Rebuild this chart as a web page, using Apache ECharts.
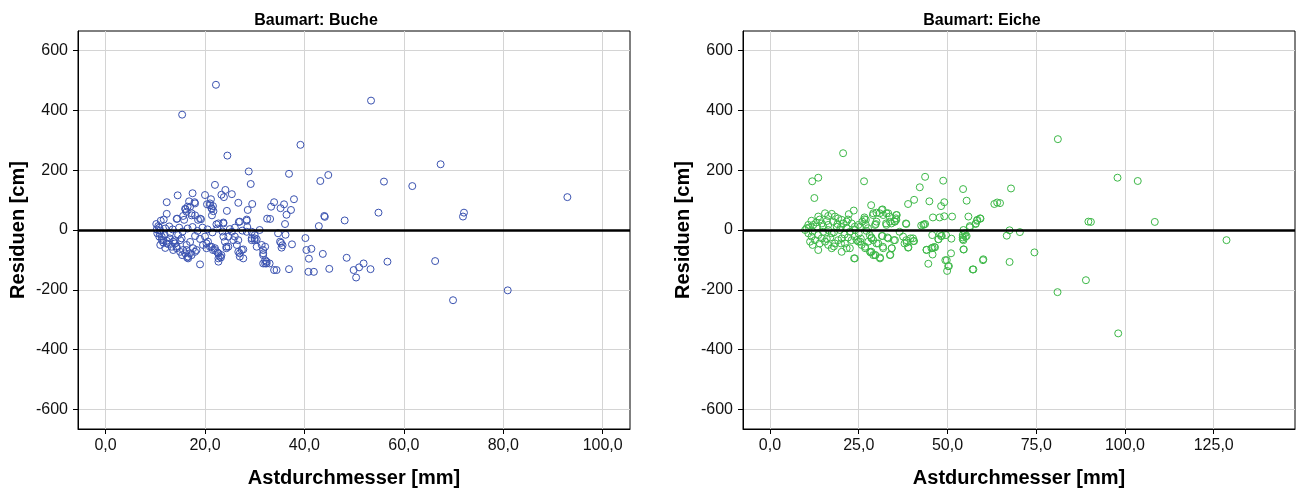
<!DOCTYPE html>
<html><head><meta charset="utf-8">
<script src="https://cdn.jsdelivr.net/npm/echarts@6/dist/echarts.min.js"></script>
<style>html,body{margin:0;padding:0;background:#fff}#c{width:1297px;height:489px}</style>
</head><body><div id="c"></div>
<script>
// ---- Data (x = Astdurchmesser [mm], y = Residuen [cm]) ----
const bucheData = [
[22.2,486],[15.4,386],[53.4,433],[39.2,285],[24.5,249],[28.8,196],[29.2,154],[36.9,188],[44.8,184],[43.2,164],[56.0,162],[61.7,147],[67.4,220],[92.9,110],[72.1,58],[71.9,45],[54.9,58],[48.1,32],[44.0,47],[44.1,44],[42.9,13],
[48.5,-93],[51.9,-112],[51.0,-125],[49.9,-134],[53.3,-131],[50.4,-159],[56.7,-106],[66.3,-104],[80.9,-202],[69.9,-235],[45.0,-130],
[33.9,93],[35.9,86],[37.9,103],[33.3,78],[35.2,73],[37.3,67],[36.4,51],[36.1,20],[33.1,37],
[34.7,-11],[36.2,-16],[35.3,-43],[35.6,-51],[35.4,-59],[37.5,-48],[40.2,-27],[40.4,-67],[41.4,-63],[40.9,-96],[43.7,-80],[34.4,-134],[36.9,-131],[40.8,-140],[41.9,-140],[33.0,-112],[33.9,-134],
[22.0,151],[14.5,116],[17.5,123],[12.3,93],[20.0,117],[24.1,134],[23.3,118],[23.8,110],[25.4,120],[26.7,91],[29.5,87],[28.6,67],[24.4,64],[16.8,96],[17.9,93],[16.0,71],[16.5,78],[12.3,54],[14.4,38],[15.6,47],[17.3,49],[18.0,49],[19.0,38],[20.4,86],[21.0,89],[21.4,71],[21.6,80],[21.4,49],[22.3,19],[23.7,25],[26.8,27],[28.4,35],[32.5,38],[11.1,31],[11.7,35],[10.8,8],
[21.2,103],[21.0,83],[21.3,73],[21.7,63],[18.0,89],[17.0,78],[16.3,61],[17.3,56],[18.6,34],[19.2,36],[22.7,22],[23.7,22],[27.0,28],[28.4,31],[14.3,37],[15.8,34],[16.1,69],[10.6,13],[10.3,2],
[10.9,-11],[11.3,-22],[11.6,-34],[12.3,-45],[12.9,-28],[13.6,-39],[14.3,-56],[15.0,-34],[15.6,-67],[16.3,-50],[17.0,-78],[16.6,-89],[17.6,-61],[18.3,-67],[19.0,-115],[20.3,-45],[21.0,-56],[21.6,-67],[22.0,-61],[22.5,-75],[22.7,-95],[23.0,-89],[23.7,-22],[24.3,-61],[24.7,-56],[25.7,-34],[26.4,-50],[26.7,-73],[27.0,-89],[27.4,-67],[27.7,-65],[28.4,-6],[29.4,-28],[30.0,-34],[30.4,-31],[31.0,0],[31.4,-50],[31.7,-67],[32.1,-56],[31.7,-84],[32.1,-112],[32.4,-106],[35.1,-39],
[10.4,-11],[10.8,-22],[11.3,-34],[11.6,-42],[12.3,-36],[12.6,-47],[13.3,-56],[13.6,-67],[14.3,-61],[15.0,-73],[15.4,-84],[16.0,-78],[16.4,-92],[15.3,-28],[14.6,-17],[13.9,-34],[11.9,-17],
[29.4,-6],[30.0,-17],[25.4,-6],[26.0,-22],[26.7,-34],[24.7,-22],[24.0,-39],[24.3,-56],[20.0,-22],[20.6,-39],[20.3,-61],[19.6,-50],[21.3,-56],[22.0,-67],[22.7,-78],[23.3,-84],[27.0,-78],[27.7,-95],[23.2,-92],[22.7,-106],[16.6,-95],[17.3,-84],[18.0,-73],[16.3,-67],[31.7,-78],[32.1,-101],[31.7,-112],[32.4,-112],[30.0,-28],[29.4,-34],[30.4,-56],
[10.2,20],[11.0,-2],[12.0,5],[12.8,12],[13.5,2],[14.8,8],[15.5,-5],[16.5,5],[17.5,10],[18.5,-3],[19.5,8],[20.5,2],[21.5,-8],[22.5,5],[23.5,-5],[25.0,3],[26.0,8],[27.5,-2],[28.5,10],[18.0,-20],[19.0,-30],[17.0,-40],[13.0,-10],[14.0,-45],[12.0,-60],[11.0,-50]
];
const eicheData = [
[81.1,304],[67.9,139],[64.8,90],[97.9,175],[103.6,164],[89.7,28],[90.4,27],[108.4,27],[67.5,-1],[66.7,-19],[70.4,-7],[74.5,-75],[67.5,-107],[89.0,-168],[81.0,-208],[98.1,-346],[128.6,-34],
[20.6,257],[11.9,163],[13.6,175],[12.5,107],[26.5,163],[43.7,178],[48.8,165],[42.2,143],[54.4,137],[40.6,101],[38.9,87],[44.9,96],[49.1,93],[48.2,80],[55.4,98],[63.2,87],[64.0,92],[28.5,83],[23.6,65],[22.2,53],[31.7,69],[30.9,56],[29.0,50],[32.8,56],[33.7,45],[35.6,50],[35.6,34],[26.6,42],[27.0,34],[45.9,42],[47.8,42],[49.1,46],[51.3,45],[55.9,45],[59.2,39],[58.3,31],[57.9,20],[38.4,20],[42.6,15],[43.4,19],[56.3,9],
[60.0,-101],[57.1,-132],[49.9,-137],[50.2,-121],[49.4,-101],[51.0,-78],[54.5,-65],[54.5,-34],[55.1,-22],[54.3,-17],[51.1,-29],[49.6,-17],[47.5,-31],[48.2,-20],[45.7,-17],[44.1,-66],[45.8,-59],[46.3,-57],[45.8,-82],[44.6,-113],[38.4,-34],[38.9,-59],[40.3,-28],[40.6,-37],[37.9,-45],[33.9,-83],[34.3,-61],[34.9,-34],[33.1,-25],[31.7,-20],[31.0,-92],[29.7,-84],[28.3,-75],[31.8,-56],[30.0,-45],[28.6,-25],[28.1,-17],[27.2,-3],[25.6,-29],[25.4,-39],[26.8,-56],[23.7,-95],[22.5,-61],[24.4,-34],[36.5,-6],[35.1,28],[34.2,22],[32.8,17],[29.8,20],[27.6,6],
[26.6,36],[26.0,28],[27.0,17],[25.4,11],[13.6,45],[11.7,31],[10.8,17],[10.3,6],[9.9,0],[15.5,56],[16.4,47],[17.4,54],[18.3,45],[19.2,39],[20.2,34],[20.7,22],[21.6,28],[23.0,22],[23.9,11],[24.9,17],
[10.8,-11],[11.7,-22],[11.3,-39],[12.7,-34],[13.6,-17],[14.6,-28],[15.5,-39],[16.4,-50],[13.6,-67],[17.4,-61],[18.3,-45],[19.2,-34],[20.2,-28],[21.1,-45],[21.6,-61],[23.0,-34],[23.9,-22],[24.9,-39],[25.8,-50],[26.8,-61],[23.9,-95],[28.2,-73],[29.1,-84],[27.7,-39],[20.2,-73],
[12.2,17],[13.2,11],[14.6,22],[16.4,17],[17.8,28],[18.8,11],[16.4,0],[15.0,-6],[17.4,-11],[19.7,0],[21.6,6],[22.5,-6],
[29.1,56],[30.0,58],[31.5,67],[31.9,50],[33.3,56],[35.7,50],[35.5,39],[30.0,28],[29.6,17],[32.7,22],[33.8,28],[35.2,28],[38.3,22],[43.2,17],[43.7,20],[54.5,0],[56.3,13],[58.0,22],[59.3,38],[58.4,34],[54.9,-11],[55.4,-20],[54.3,-31],[47.9,-13],[47.4,-31],[48.4,-20],
[28.6,-28],[29.1,-34],[31.5,-20],[33.3,-28],[35.2,-34],[37.5,-22],[38.5,-42],[39.6,-28],[40.4,-37],[39.0,-58],[34.3,-61],[31.9,-61],[30.5,-45],[28.6,-73],[29.6,-84],[31.0,-95],[33.8,-84],
[44.1,-67],[45.5,-61],[46.5,-58],[49.8,-101],[50.4,-121],[54.6,-65],[54.3,-25],[60.1,-98],[57.3,-132],
[11.0,8],[12.0,-5],[13.0,25],[14.0,35],[15.0,12],[16.0,30],[17.0,-25],[18.0,-8],[19.0,20],[20.0,10],[21.0,-15],[22.0,35],[18.0,-55],[16.0,-30],[14.0,-45],[12.0,-50],[20.0,-45],[22.0,-25],[24.0,0],[25.0,-12]
];
const bucheXTicks = [0, 20, 40, 60, 80, 100];
const eicheXTicks = [0, 25, 50, 75, 100, 125];
const yTicks = [-600, -400, -200, 0, 200, 400, 600];
const titles = ['Baumart: Buche', 'Baumart: Eiche'];
const xName = 'Astdurchmesser [mm]';
const yName = 'Residuen [cm]';

// ---- Chart ----
const font = "'Liberation Sans', Arial, sans-serif";
const fmtX = v => Number(v).toFixed(1).replace('.', ',');
const gridLine = {show: true, lineStyle: {color: '#d4d4d4', width: 1}};

function makeX(gridIndex, min, max, ticks) {
  return {
    type: 'value', gridIndex, min, max,
    name: xName, nameLocation: 'middle', nameGap: 39,
    nameTextStyle: {fontFamily: font, fontSize: 20, fontWeight: 'bold', color: '#000'},
    axisLine: {show: true, onZero: false, lineStyle: {color: '#000', width: 1}},
    axisTick: {show: true, length: 5, customValues: ticks, lineStyle: {color: '#000'}},
    axisLabel: {customValues: ticks, formatter: fmtX, fontFamily: font, fontSize: 16, color: '#111', margin: 9},
    splitLine: gridLine
  };
}
function makeY(gridIndex) {
  return {
    type: 'value', gridIndex, min: -666, max: 666,
    name: yName, nameLocation: 'middle', nameGap: 50,
    nameTextStyle: {fontFamily: font, fontSize: 20, fontWeight: 'bold', color: '#000'},
    axisLine: {show: true, onZero: false, lineStyle: {color: '#000', width: 1}},
    axisTick: {show: true, length: 5, customValues: yTicks, lineStyle: {color: '#000'}},
    axisLabel: {customValues: yTicks, fontFamily: font, fontSize: 16, color: '#111', margin: 10},
    splitLine: gridLine
  };
}
function makeSeries(idx, data, color) {
  return {
    type: 'scatter', xAxisIndex: idx, yAxisIndex: idx, data,
    symbol: 'circle', symbolSize: 7,
    itemStyle: {color: 'rgba(255,255,255,0)', borderColor: color, borderWidth: 1, opacity: 1},
    emphasis: {disabled: true},
    markLine: {
      silent: true, symbol: 'none', animation: false,
      label: {show: false},
      lineStyle: {color: '#000', width: 2.5, type: 'solid'},
      data: [{yAxis: 0}]
    }
  };
}

const chart = echarts.init(document.getElementById('c'), null, {renderer: 'canvas'});
chart.setOption({
  animation: false,
  backgroundColor: '#fff',
  title: [
    {text: titles[0], left: 311, top: 8, textAlign: 'center', textStyle: {fontFamily: font, fontSize: 16, fontWeight: 'bold', color: '#000'}},
    {text: titles[1], left: 977, top: 8, textAlign: 'center', textStyle: {fontFamily: font, fontSize: 16, fontWeight: 'bold', color: '#000'}}
  ],
  grid: [
    {left: 78, top: 31, width: 552, height: 398, outerBoundsMode: 'none', containLabel: false, show: true, borderColor: '#000', borderWidth: 1, backgroundColor: '#fff'},
    {left: 743, top: 31, width: 552, height: 398, outerBoundsMode: 'none', containLabel: false, show: true, borderColor: '#000', borderWidth: 1, backgroundColor: '#fff'}
  ],
  xAxis: [makeX(0, -5.55, 105.5, bucheXTicks), makeX(1, -7.6, 147.9, eicheXTicks)],
  yAxis: [makeY(0), makeY(1)],
  series: [makeSeries(0, bucheData, '#3a52b0'), makeSeries(1, eicheData, '#3cb847')]
});
</script>
</body></html>
